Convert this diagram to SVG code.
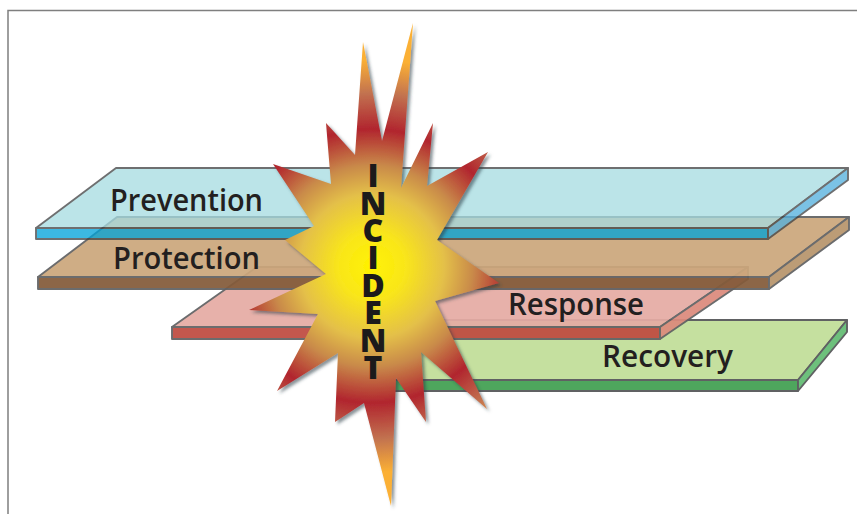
<svg xmlns="http://www.w3.org/2000/svg" width="857" height="514" viewBox="0 0 857 514">
<style>
.e{stroke:#414244;stroke-width:1.9;stroke-linejoin:round}
.g{stroke:#606163;stroke-width:1.9;stroke-linejoin:round}
.t{font-family:"Open Sans","Noto Sans","Liberation Sans",sans-serif;font-weight:600;font-size:31px;fill:#231f20}
.i{font-family:"Open Sans","Liberation Sans",sans-serif;font-weight:800;font-size:32px;fill:#1c1a1b}
</style>
<defs>
<radialGradient id="burst" gradientUnits="userSpaceOnUse" cx="372" cy="266" r="240">
<stop offset="0" stop-color="#fff200"/>
<stop offset=".14" stop-color="#f9e61a"/>
<stop offset=".3" stop-color="#e4c048"/>
<stop offset=".42" stop-color="#c98a4a"/>
<stop offset=".57" stop-color="#b1252e"/>
<stop offset=".72" stop-color="#c27250"/>
<stop offset=".86" stop-color="#fbb034"/>
<stop offset="1" stop-color="#fbb034"/>
</radialGradient>
<filter id="sh" x="-15%" y="-15%" width="130%" height="130%">
<feDropShadow dx="2.5" dy="2.5" stdDeviation="1.8" flood-color="#2b3a44" flood-opacity=".55"/>
</filter>
</defs>
<path d="M8 514V10.500H857" fill="none" stroke="#7f7f7f" stroke-width="1.5"/>
<g id="connectors"/>
<g id="recovery">
<path class="g" fill="#c5e09f" d="M345 380L400 320H847L798 380Z"/>
<path class="g" fill="#4ea65d" d="M345 380H798V391H345Z"/>
<path class="g" fill="#6dc07c" d="M798 380L847 320V332L798 391Z"/>
<text class="t" x="602" y="367" textLength="131" lengthAdjust="spacingAndGlyphs">Recovery</text>
</g>
<g id="response" opacity=".93">
<path class="g" fill="#e6aca4" d="M172 327L257 267H748L660 327Z"/>
<path class="g" fill="#bf4b40" d="M172 327H660V339H172Z"/>
<path class="g" fill="#dc8a7c" d="M660 327L748 267V279L660 339Z"/>
</g>
<text class="t" x="508" y="315" textLength="136" lengthAdjust="spacingAndGlyphs">Response</text>
<g id="protection" opacity=".93">
<path class="g" fill="#cca77c" d="M38 277L117 217H849L769 277Z"/>
<path class="g" fill="#845b3a" d="M38 277H769V289H38Z"/>
<path class="g" fill="#b8956c" d="M769 277L849 217V230L769 289Z"/>
</g>
<text class="t" x="113" y="269" textLength="147" lengthAdjust="spacingAndGlyphs">Protection</text>
<g id="prevention" opacity=".76">
<path class="e" fill="#a7dce1" d="M36 228L116 168H848L768 228Z"/>
<path class="e" fill="#00a3d9" d="M36 228H768V239H36Z"/>
<path class="e" fill="#53b0de" d="M768 228L848 168V180L768 239Z"/>
</g>
<text class="t" x="110" y="211" textLength="153" lengthAdjust="spacingAndGlyphs">Prevention</text>
<g id="incident">
<path fill="url(#burst)" filter="url(#sh)" d="M413 23L401 188L433 123L427 186L488 152L437 240L499 283L435 301L487 409L421 352L426 422L396 378L391 506L364 403L335 422L338 353L277 391L318 314L249 310L326 274L285 240L314 226L273 164L331 184L326 123L355 155L363 42L382 141Z"/>
<text class="i" text-anchor="middle" x="373 373 373 373 373 373 373 373" y="187 214.500 242 269 296.700 324 352 379">INCIDENT</text>
</g>
</svg>
